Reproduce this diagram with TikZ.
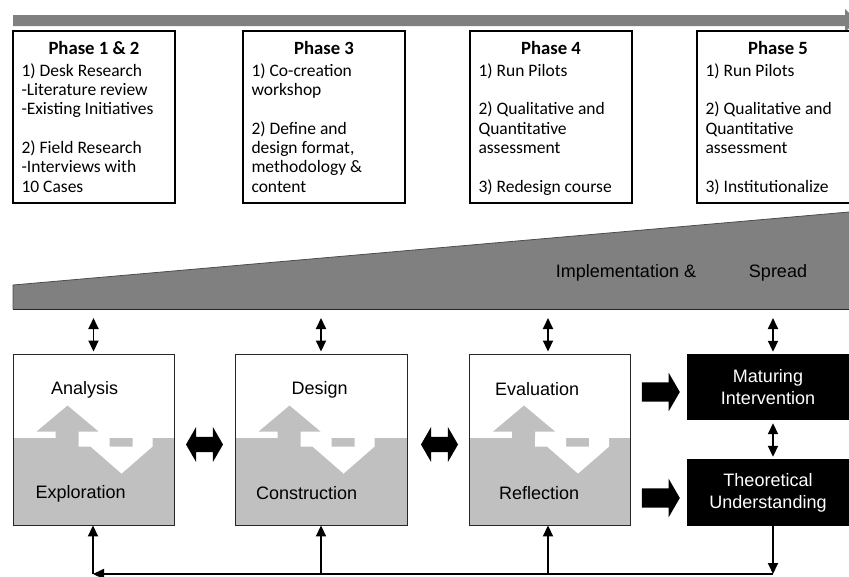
\documentclass[tikz,border=0pt]{standalone}
\usepackage{fontspec}
\setmainfont{Carlito}
\newfontfamily\arialfont{Liberation Sans}
\usetikzlibrary{arrows.meta,shapes.arrows}

\definecolor{bargray}{HTML}{808080}
\definecolor{shadegray}{HTML}{C0C0C0}

\begin{document}
\begin{tikzpicture}[x=1pt,y=-1pt,line join=miter,
  phasebox/.style={draw,line width=1.4pt,minimum width=162pt,minimum height=172pt,inner sep=0pt},
  phasetitle/.style={inner sep=0pt,font=\fontsize{18.7}{21}\selectfont\bfseries},
  phasetext/.style={anchor=north west,inner sep=0pt,align=left,font=\fontsize{17.5}{19.3}\selectfont},
  cyclebox/.style={draw=black!85,line width=0.9pt,minimum height=171pt,inner sep=0pt,
    path picture={\fill[shadegray] ([yshift=-84pt]path picture bounding box.north west) rectangle (path picture bounding box.south east);}},
  steplabel/.style={inner sep=0pt,font=\arialfont\fontsize{18}{21}\selectfont},
  darkbox/.style={fill=black,text=white,align=center,minimum width=162pt,inner sep=0pt,font=\arialfont\fontsize{18}{22}\selectfont},
  fatdouble/.style={double arrow,fill=black,inner xsep=0pt,inner ysep=7.5pt,double arrow head extend=10pt,double arrow tip angle=120,minimum height=37pt},
  fatright/.style={single arrow,fill=black,inner xsep=0pt,inner ysep=9.5pt,single arrow head extend=9.5pt,single arrow tip angle=120,minimum height=38pt},
  link/.style={line width=1.8pt,-{Triangle[length=11pt,width=10pt]}},
  twoway/.style={line width=1.8pt,{Triangle[length=11pt,width=10pt]}-{Triangle[length=11pt,width=10pt]}}]
\useasboundingbox (0,0) rectangle (849,576);
\clip (0,0) rectangle (849,576);

% time line on top
\fill[bargray] (13,15) -- (845,15) -- (845,9) -- (857,20.5) -- (845,32) -- (845,26) -- (13,26) -- cycle;

% phases
\node[phasebox] (p12) at (94,117) {};
\node[phasebox] (p3) at (324,117) {};
\node[phasebox] (p4) at (551,117) {};
\node[phasebox] (p5) at (778,117) {};
\node[phasetitle] (p12-title) at (p12.north |- 0,48) {Phase 1 \& 2};
\node[phasetitle] (p3-title) at (p3.north |- 0,48) {Phase 3};
\node[phasetitle] (p4-title) at (p4.north |- 0,48) {Phase 4};
\node[phasetitle] (p5-title) at (p5.north |- 0,48) {Phase 5};
\node[phasetext] (p12-text) at ([xshift=9pt,yshift=-33pt]p12.north west)
  {1) Desk Research\\-Literature review\\-Existing Initiatives\\[19.3pt]2) Field Research\\-Interviews with\\10 Cases};
\node[phasetext] (p3-text) at ([xshift=9pt,yshift=-33pt]p3.north west)
  {1) Co-creation\\workshop\\[19.3pt]2) Define and\\design format,\\methodology \&\\content};
\node[phasetext] (p4-text) at ([xshift=9pt,yshift=-33pt]p4.north west)
  {1) Run Pilots\\[19.3pt]2) Qualitative and\\Quantitative\\assessment\\[19.3pt]3) Redesign course};
\node[phasetext] (p5-text) at ([xshift=9pt,yshift=-33pt]p5.north west)
  {1) Run Pilots\\[19.3pt]2) Qualitative and\\Quantitative\\assessment\\[19.3pt]3) Institutionalize};

% growing wedge
\fill[bargray] (13,285) -- (849,212) -- (849,309) -- (13,309) -- cycle;
\draw[black!70,line width=0.8pt] (13,309) -- (13,285) -- (849,212);
\draw[black!85,line width=1pt] (13,309) -- (849,309);
\coordinate (wb) at (0,309);
\node[steplabel] (impl) at (626,273) {Implementation \&};
\node[steplabel] (spread) at (778,273) {Spread};

% cycle boxes
\node[cyclebox,minimum width=161pt] (ana) at (93.5,439.5) {};
\node[cyclebox,minimum width=172pt] (des) at (321,439.5) {};
\node[cyclebox,minimum width=161pt] (eva) at (550,439.5) {};
\foreach \bx/\toptext/\lowtext/\tx/\lx in {ana/Analysis/Exploration/72/68,des/Design/Construction/85/72,eva/Evaluation/Reflection/68/70}{
  \begin{scope}[shift={(\bx.north west)}]
    \fill[shadegray] (55,52) -- (86,78) -- (66,78) -- (66,85) -- (43,85) -- (43,78) -- (24,78) -- cycle;
    \fill[white] (66,84) -- (97,84) -- (97,93) -- (120,93) -- (120,84) -- (140,84) -- (140,93)
      -- (109,120) -- (78,93) -- (66,93) -- cycle;
    \node[steplabel] (\bx-top) at (\tx,36) {\toptext};
    \node[steplabel] (\bx-low) at (\lx,140) {\lowtext};
  \end{scope}
}
\node[fatdouble] (ana-des) at (204.5,444.5) {};
\node[fatdouble] (des-eva) at (439.5,444.5) {};

% outcomes
\node[darkbox,minimum height=66pt] (mat) at (768,387) {Maturing\\Intervention};
\node[darkbox,minimum height=67pt] (theo) at (768,492.5) {Theoretical\\Understanding};
\node[fatright] (eva-mat) at (658,392) {};
\node[fatright] (eva-theo) at (658,498) {};
\draw[twoway,shorten <=3pt,shorten >=2pt] (mat.south -| 773,0) -- (theo.north -| 773,0);

% links to the wedge
\draw[twoway,shorten <=9pt,shorten >=2pt] (ana.north |- wb) -- (ana.north);
\draw[twoway,shorten <=9pt,shorten >=2pt] (des.north |- wb) -- (des.north);
\draw[twoway,shorten <=9pt,shorten >=2pt] (548,309) -- (eva.north -| 548,0);
\draw[twoway,shorten <=9pt,shorten >=2pt] (773,309) -- (mat.north -| 773,0);

% feedback loop
\coordinate (fb) at (773,574);
\coordinate (fl) at (93,574);
\draw[link] (theo.south -| fb) -- (fb);
\draw[link] (fb) -- (fl);
\draw[link] (fl) -- (ana.south -| fl);
\draw[link] (des.south |- fl) -- (des.south);
\draw[link] (548,574) -- (eva.south -| 548,0);
\end{tikzpicture}
\end{document}
